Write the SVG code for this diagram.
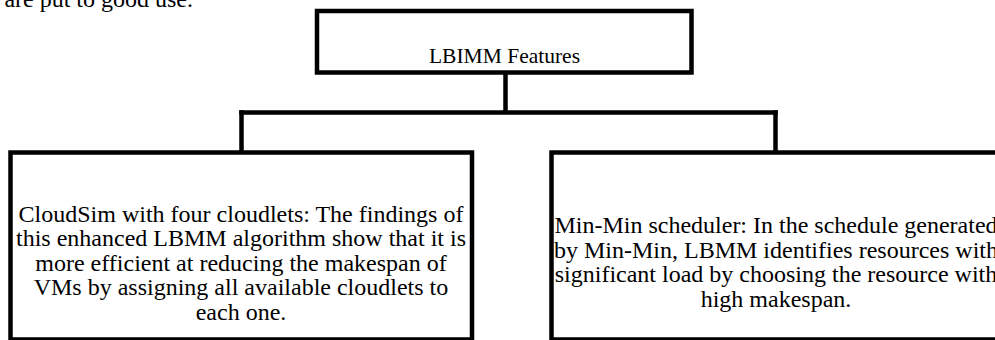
<svg xmlns="http://www.w3.org/2000/svg" width="995" height="340" viewBox="0 0 995 340">
<style>
.box{fill:#fff;stroke:#000;stroke-width:4.5}
.conn{fill:none;stroke:#000;stroke-width:4.5}
text{font-family:"Liberation Serif","Times New Roman",serif;fill:#000}
.body{font-size:24px;text-anchor:middle}
.title{font-size:21.5px;text-anchor:middle}
</style>
<rect width="995" height="340" fill="#fff"/>
<text x="193" y="7" font-size="24" text-anchor="end">are put to good use.</text>
<g id="connectors">
<line class="conn" x1="505.5" y1="72.5" x2="505.5" y2="112.5"/>
<line class="conn" x1="239.25" y1="112.5" x2="777.75" y2="112.5"/>
<line class="conn" x1="241.5" y1="110.25" x2="241.5" y2="152.5"/>
<line class="conn" x1="775.5" y1="110.25" x2="775.5" y2="152.5"/>
</g>
<g id="root">
<rect class="box" x="317" y="11" width="374.5" height="61.5"/>
<text class="title" x="504.5" y="63">LBIMM Features</text>
</g>
<g id="left">
<rect class="box" x="10.5" y="152.5" width="461.5" height="187"/>
<text class="body" x="241" y="221.7">CloudSim with four cloudlets: The findings of</text>
<text class="body" x="241" y="246.2">this enhanced LBMM algorithm show that it is</text>
<text class="body" x="241" y="270.7">more efficient at reducing the makespan of</text>
<text class="body" x="241" y="295.2">VMs by assigning all available cloudlets to</text>
<text class="body" x="241" y="319.7">each one.</text>
</g>
<g id="right">
<rect class="box" x="551.5" y="152.5" width="449" height="187"/>
<text class="body" x="776" y="233.3">Min-Min scheduler: In the schedule generated</text>
<text class="body" x="776" y="257.8">by Min-Min, LBMM identifies resources with</text>
<text class="body" x="776" y="282.3">significant load by choosing the resource with</text>
<text class="body" x="776" y="306.8">high makespan.</text>
</g>
</svg>
